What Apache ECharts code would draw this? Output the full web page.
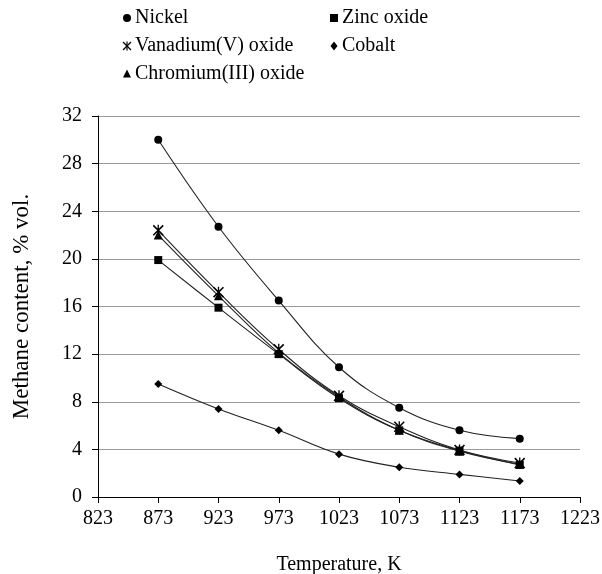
<!DOCTYPE html>
<html>
<head>
<meta charset="utf-8">
<script src="https://cdn.jsdelivr.net/npm/echarts@6/dist/echarts.min.js"></script>
<style>
  html, body { margin: 0; padding: 0; background: #fff; }
  #main { width: 602px; height: 574px; }
</style>
</head>
<body>
<div id="main"></div>
<script>
// temperatures, K
var temps = [873, 923, 973, 1023, 1073, 1123, 1173];
// methane content, % vol.
var nickel = [30.0, 22.7, 16.5, 10.9, 7.5, 5.6, 4.9];
var zincOxide = [19.9, 15.9, 12.0, 8.3, 5.6, 3.9, 2.7];
var vanadiumOxide = [22.4, 17.2, 12.4, 8.5, 5.9, 3.95, 2.85];
var cobalt = [9.5, 7.4, 5.6, 3.6, 2.5, 1.9, 1.35];
var chromiumOxide = [22.0, 16.9, 12.1, 8.4, 5.6, 3.85, 2.75];

var FONT = "Liberation Serif";
var FS = 20;

// asterisk: X plus vertical bar
var asterisk = "path://M4.4,0 L5.6,0 L5.6,10 L4.4,10 Z M0,1 L1,0 L10,9 L9,10 Z M9,0 L10,1 L1,10 L0,9 Z";

function pairs(vals) {
	return temps.map(function(t, i) {
		return [t, vals[i]];
	});
}

function mkSeries(name, vals, symbol, size) {
	return {
		name: name,
		type: "line",
		smooth: 0.4,
		data: pairs(vals),
		symbol: symbol,
		symbolSize: size,
		showSymbol: true,
		lineStyle: { color: "#222", width: 1.1 },
		itemStyle: { color: "#000" },
	};
}

// legend drawn by hand (the legend component ignores the serif font here)
function keyIcon(kind, cx, cy) {
	var st = { fill: "#000" };
	if (kind == "circle") return [{ type: "circle", shape: { cx: cx, cy: cy, r: 4 }, style: st }];
	if (kind == "rect") return [{ type: "rect", shape: { x: cx - 4, y: cy - 4, width: 8, height: 8 }, style: st }];
	if (kind == "diamond")
		return [{ type: "polygon", shape: { points: [[cx, cy - 4.5], [cx + 3.5, cy], [cx, cy + 4.5], [cx - 3.5, cy]] }, style: st }];
	if (kind == "triangle")
		return [{ type: "polygon", shape: { points: [[cx, cy - 4.5], [cx + 4, cy + 3.5], [cx - 4, cy + 3.5]] }, style: st }];
	var ln = { stroke: "#000", lineWidth: 1.2 };
	return [
		{ type: "line", shape: { x1: cx, y1: cy - 4.5, x2: cx, y2: cy + 4.5 }, style: ln },
		{ type: "line", shape: { x1: cx - 4, y1: cy - 4, x2: cx + 4, y2: cy + 4 }, style: ln },
		{ type: "line", shape: { x1: cx + 4, y1: cy - 4, x2: cx - 4, y2: cy + 4 }, style: ln },
	];
}

function keyEntry(name, kind, cx, cy) {
	return keyIcon(kind, cx, cy).concat([
		{
			type: "text",
			x: cx + 8,
			y: cy,
			style: { text: name, fontFamily: FONT, fontSize: FS, fill: "#000", verticalAlign: "middle" },
		},
	]);
}

var keyGraphics = [].concat(
	keyEntry("Nickel", "circle", 127, 18),
	keyEntry("Vanadium(V) oxide", "asterisk", 127, 46),
	keyEntry("Chromium(III) oxide", "triangle", 127, 74),
	keyEntry("Zinc oxide", "rect", 334, 18),
	keyEntry("Cobalt", "diamond", 334, 46)
);

var chart = echarts.init(document.getElementById("main"), null, { renderer: "canvas" });
chart.setOption({
	animation: false,
	textStyle: { fontFamily: FONT },
	grid: { left: 98, right: 22, top: 116, bottom: 77, outerBoundsMode: "none", containLabel: false },
	graphic: keyGraphics,
	xAxis: {
		type: "value",
		min: 823,
		max: 1223,
		interval: 50,
		name: "Temperature, K",
		nameLocation: "middle",
		nameGap: 58,
		nameTextStyle: { fontFamily: FONT, fontSize: FS, color: "#000" },
		axisLine: { lineStyle: { color: "#000", width: 1 } },
		axisTick: { show: true, length: 6, lineStyle: { color: "#000" } },
		axisLabel: {
			fontFamily: FONT,
			fontSize: FS,
			color: "#000",
			margin: 12,
			formatter: function(v) {
				return String(v);
			},
		},
		splitLine: { show: false },
	},
	yAxis: {
		type: "value",
		min: 0,
		max: 32,
		interval: 4,
		name: "Methane content, % vol.",
		nameLocation: "middle",
		nameGap: 65,
		nameTextStyle: { fontFamily: FONT, fontSize: 23, color: "#000" },
		axisLine: { show: true, lineStyle: { color: "#000", width: 1 } },
		axisTick: { show: true, length: 6, lineStyle: { color: "#000" } },
		axisLabel: { fontFamily: FONT, fontSize: FS, color: "#000", margin: 16 },
		splitLine: { show: true, lineStyle: { color: "#9a9a9a", width: 1 } },
	},
	series: [
		mkSeries("Nickel", nickel, "circle", 8),
		mkSeries("Zinc oxide", zincOxide, "rect", 8),
		mkSeries("Vanadium(V) oxide", vanadiumOxide, asterisk, 11),
		mkSeries("Cobalt", cobalt, "diamond", 8),
		mkSeries("Chromium(III) oxide", chromiumOxide, "triangle", 9),
	],
});
</script>
</body>
</html>
